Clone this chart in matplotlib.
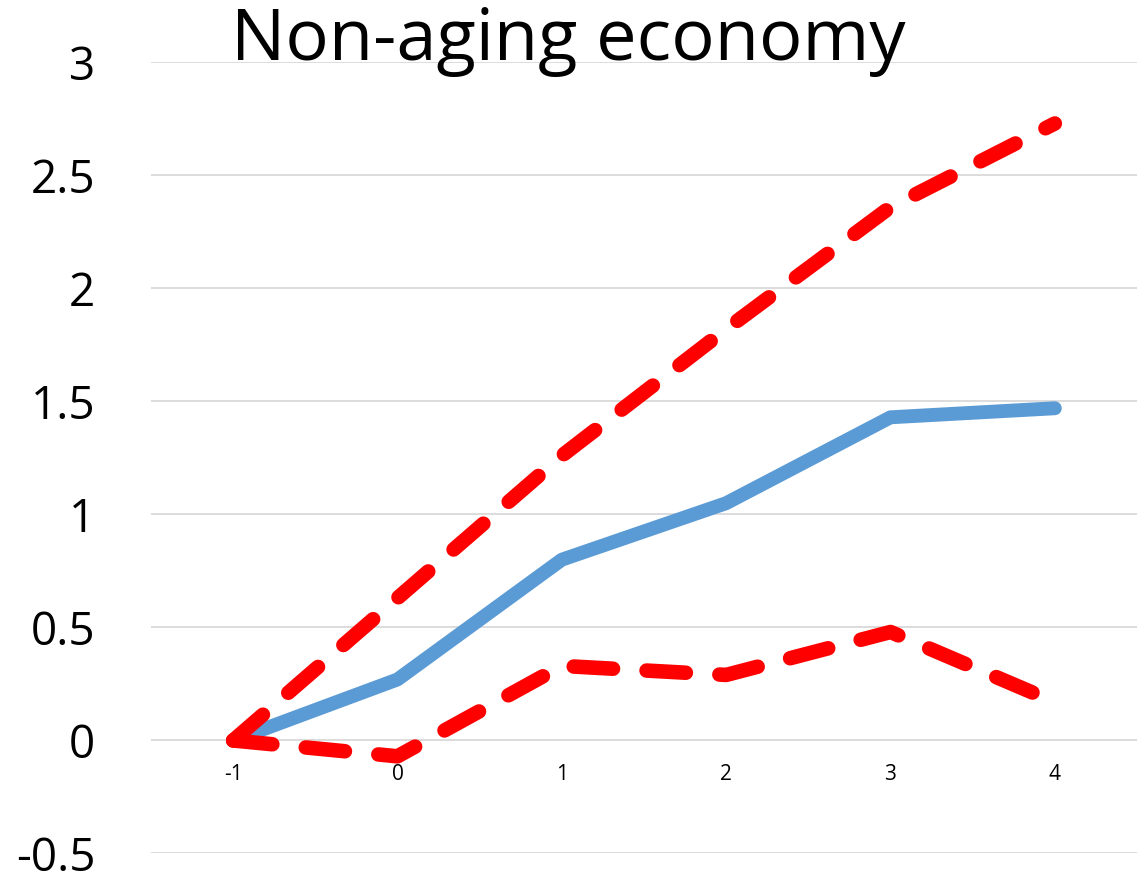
import matplotlib
matplotlib.use("Agg")
import matplotlib.pyplot as plt

plt.rcParams['font.family'] = ['Open Sans', 'DejaVu Sans']

# Dados do grafico
periodos = ['-1', '0', '1', '2', '3', '4']
estimativa = [0.0, 0.27, 0.80, 1.05, 1.43, 1.47]
limite_sup = [0.0, 0.63, 1.26, 1.82, 2.36, 2.73]
limite_inf = [0.0, -0.07, 0.33, 0.29, 0.48, 0.17]
y_ticks = [-0.5, 0, 0.5, 1, 1.5, 2, 2.5, 3]
titulo = 'Non-aging economy'

fig = plt.figure(figsize=(11.37, 8.86), dpi=100)
ax = fig.add_axes([0.1328, 0.0367, 0.8672, 0.8928])

x = list(range(len(periodos)))

ax.plot(x, estimativa, color='#5B9BD5', lw=10, solid_capstyle='round',
        solid_joinstyle='round', zorder=3)
for serie in (limite_sup, limite_inf):
    ax.plot(x, serie, color='#FF0000', lw=10.5, dashes=(2.7, 2.3),
            dash_capstyle='round', dash_joinstyle='round', zorder=4)

ax.set_ylim(-0.5, 3)
ax.set_xlim(-0.5, len(periodos) - 0.5)
ax.set_yticks(y_ticks)
ax.set_yticklabels([f'{v:g}' for v in y_ticks])
ax.grid(axis='y', color='#d9d9d9', lw=1.3)
ax.set_axisbelow(True)

# eixo de categorias cruzando em y=0
ax.spines['bottom'].set_position(('data', 0))
for s in ['top', 'right', 'left', 'bottom']:
    ax.spines[s].set_visible(False)
ax.set_xticks(x)
ax.set_xticklabels(periodos)
ax.tick_params(axis='x', length=0, pad=17, labelsize=15)
ax.tick_params(axis='y', length=0, pad=40, labelsize=33)

fig.text(0.5, 0.932, titulo, fontsize=52, ha='center', va='baseline')

fig.savefig('out.png', dpi=100)
